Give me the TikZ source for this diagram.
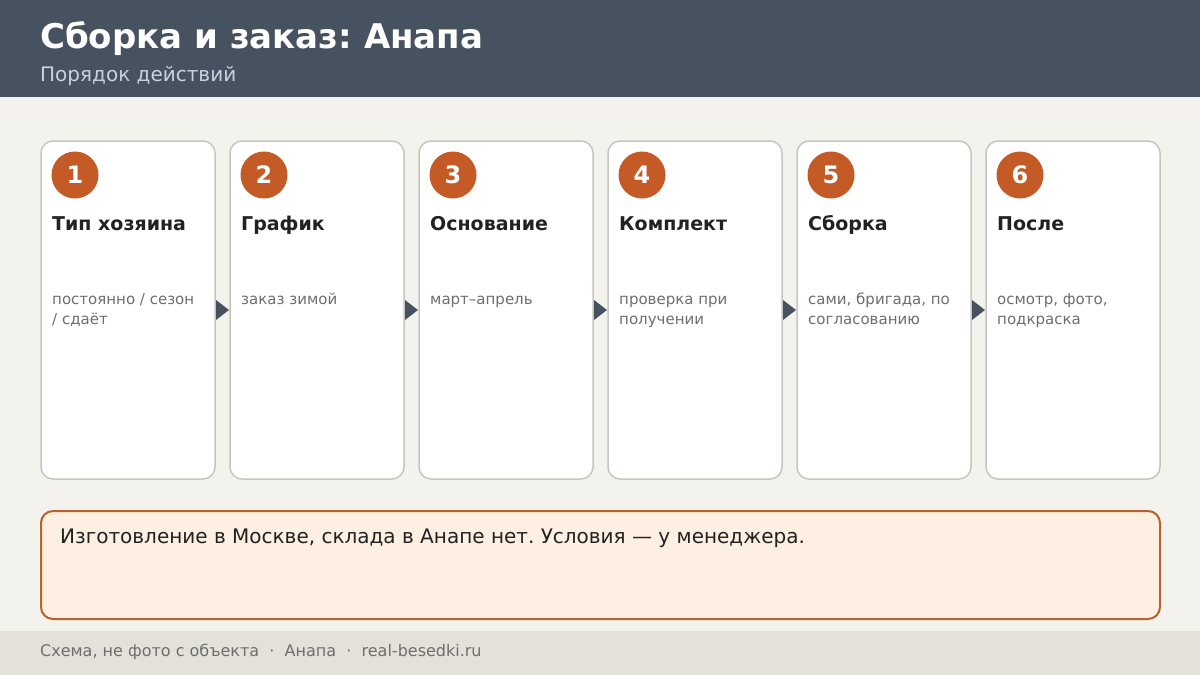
\documentclass[tikz,border=0pt]{standalone}
\usepackage{fontspec}
\setmainfont{DejaVu Sans}
\frenchspacing
\definecolor{hdr}{HTML}{475260}
\definecolor{bg}{HTML}{F4F2ED}
\definecolor{foot}{HTML}{E4E1DA}
\definecolor{cardline}{HTML}{C8C5BE}
\definecolor{accent}{HTML}{C45A25}
\definecolor{ink}{HTML}{222222}
\definecolor{muted}{HTML}{6E6E6E}
\definecolor{subt}{HTML}{C9D1DC}
\definecolor{notefill}{HTML}{FDEFE1}
\definecolor{noteline}{HTML}{B5622C}
\tikzset{
  card/.style={draw=cardline, line width=1.5pt, fill=white, rounded corners=12pt},
  numdot/.style={circle, fill=accent, minimum size=47pt, inner sep=0pt},
  numtxt/.style={anchor=base, text=white, font=\bfseries\fontsize{24}{24}\selectfont, inner sep=0pt},
  cardtitle/.style={anchor=base west, text=ink, font=\bfseries\fontsize{19}{19}\selectfont, inner sep=0pt},
  carddesc/.style={anchor=base west, text=muted, font=\fontsize{15}{20}\selectfont, inner sep=0pt},
  flowtip/.style={fill=hdr},
}
\newcommand{\desclines}[1]{\begin{tabular}[t]{@{}l@{}}#1\end{tabular}}
\begin{document}
\begin{tikzpicture}[x=1pt,y=-1pt]
\useasboundingbox (0,0) rectangle (1200,675);
\fill[bg] (0,0) rectangle (1200,675);
\fill[hdr] (0,0) rectangle (1200,97);
\node[anchor=base west, text=white, font=\bfseries\fontsize{34}{34}\selectfont, inner sep=0pt] (title) at (40,48) {Сборка и заказ: Анапа};
\node[anchor=base west, text=subt, font=\fontsize{20}{20}\selectfont, inner sep=0pt] (subtitle) at (40,81) {Порядок действий};
\fill[foot] (0,631) rectangle (1200,675);
\node[anchor=base west, text=muted, font=\fontsize{16}{16}\selectfont, inner sep=0pt] (footer) at (40,656) {Схема, не фото с объекта\ \ \textperiodcentered\ \ Анапа\ \ \textperiodcentered\ \ real-besedki.ru};
\foreach \i/\t/\d in {1/Тип хозяина/{постоянно / сезон\\/ сдаёт},
                      2/График/{заказ зимой},
                      3/Основание/{март–апрель},
                      4/Комплект/{проверка при\\получении},
                      5/Сборка/{сами, бригада, по\\согласованию},
                      6/После/{осмотр, фото,\\подкраска}}{
  \pgfmathsetmacro{\xl}{41+189*(\i-1)}
  \draw[card] (\xl,141) rectangle ++(174,338);
  \node[numdot] (dot\i) at (\xl+34,175) {};
  \node[numtxt] (num\i) at (\xl+34,183.5) {\i};
  \node[cardtitle] (ttl\i) at (\xl+11,230) {\t};
  \node[carddesc] (desc\i) at (\xl+11,304) {\desclines{\d}};
}
\foreach \i in {1,...,5}{
  \pgfmathsetmacro{\xa}{216+189*(\i-1)}
  \coordinate (ta\i) at (\xa,300);
  \coordinate (tb\i) at (\xa+13,310);
  \coordinate (tc\i) at (\xa,320);
  \fill[flowtip] (ta\i) -- (tb\i) -- (tc\i) -- cycle;
}
\draw[draw=noteline, line width=2pt, fill=notefill, rounded corners=12pt] (41,511) rectangle (1160,619);
\node[anchor=base west, text=ink, font=\fontsize{20}{20}\selectfont, inner sep=0pt] (note) at (60,543) {Изготовление в Москве, склада в Анапе нет. Условия — у менеджера.};
\end{tikzpicture}
\end{document}
